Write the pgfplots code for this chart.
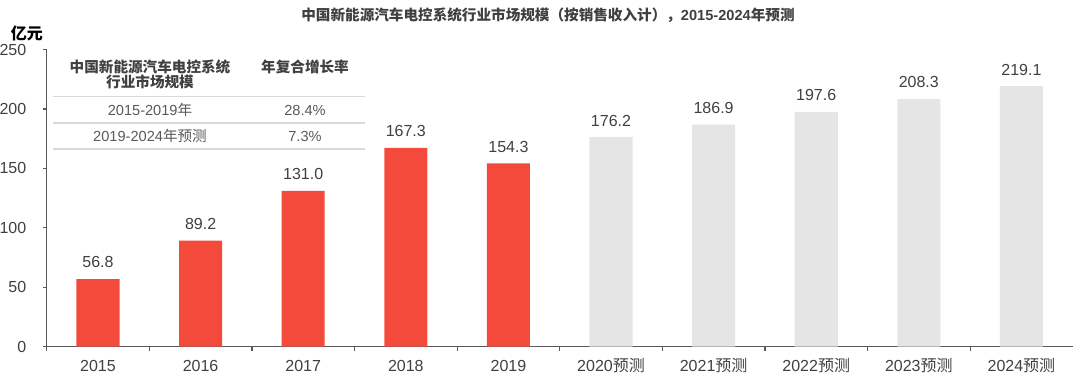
\documentclass[border=0pt]{standalone}
\usepackage{pgfplots}
\pgfplotsset{compat=1.18}
\usepackage{fontspec}
\setmainfont{Liberation Sans}
\newfontfamily\cjk{Noto Sans CJK SC}
\definecolor{barred}{HTML}{F44A3C}
\definecolor{bargray}{HTML}{E5E5E5}
\definecolor{txt}{HTML}{404040}
\definecolor{axl}{HTML}{595959}
\definecolor{tline}{HTML}{D9D9D9}
\definecolor{ttxt}{HTML}{595959}
\begin{document}
\begin{tikzpicture}
\path[use as bounding box] (-23.35pt,-18.65pt) rectangle (516.65pt,173.35pt);
\begin{axis}[
  at={(0pt,0pt)}, anchor=south west,
  scale only axis, width=513pt, height=148.6pt,
  xmin=-0.5, xmax=9.5, ymin=0, ymax=250,
  axis x line*=bottom, axis y line*=left,
  axis line style={draw=axl, line width=0.6pt},
  /pgf/number format/assume math mode=true,
  tick align=outside,
  major tick length=2pt, minor tick length=2pt,
  tick style={draw=axl, line width=0.6pt},
  xtick={0,...,9},
  xticklabels={2015,2016,2017,2018,2019,{2020\cjk 预测},{2021\cjk 预测},{2022\cjk 预测},{2023\cjk 预测},{2024\cjk 预测}},
  major x tick style={draw=none},
  minor xtick={-0.5,0.5,...,8.5},
  ytick={0,50,...,250},
  ticklabel style={font=\fontsize{8}{9.6}\selectfont, text=txt},
  xticklabel style={text height=5.8pt, text depth=1.5pt, yshift=-1.1pt},
  yticklabel style={xshift=-4.7pt},
  nodes near coords={\pgfmathprintnumber[fixed,fixed zerofill,precision=1]{\pgfplotspointmeta}},
  every node near coord/.append style={font=\fontsize{8}{9.6}\selectfont, text=txt, yshift=2pt},
  clip=false,
]
\addplot[ybar, bar shift=0pt, bar width=0.42, fill=barred, draw=none]
  coordinates {(0,56.8) (1,89.2) (2,131.0) (3,167.3) (4,154.3)};
\addplot[ybar, bar shift=0pt, bar width=0.42, fill=bargray, draw=none]
  coordinates {(5,176.2) (6,186.9) (7,197.6) (8,208.3) (9,219.1)};
\end{axis}
% unit label
\node[text=black, font=\fontsize{8}{9.6}\selectfont\cjk\bfseries] at (-9.85pt,156.85pt) {亿元};
% title
\node[text=txt, font=\fontsize{7.3}{8.8}\selectfont\bfseries] at (250.65pt,165.85pt) {{\cjk 中国新能源汽车电控系统行业市场规模（按销售收入计），}2015-2024{\cjk 年预测}};
% table
\draw[tline, line width=0.6pt] (3.15pt,125pt) -- (159.15pt,125pt);
\draw[tline, line width=0.6pt] (3.15pt,111.85pt) -- (159.15pt,111.85pt);
\draw[tline, line width=0.6pt] (3.15pt,98.85pt) -- (159.15pt,98.85pt);
\node[text=txt, align=center, font=\fontsize{7.3}{7.5}\selectfont\cjk\bfseries] at (51.65pt,136.1pt) {中国新能源汽车电控系统\\行业市场规模};
\node[text=txt, font=\fontsize{7.3}{8.8}\selectfont\cjk\bfseries] at (129.15pt,139.85pt) {年复合增长率};
\node[text=ttxt, font=\fontsize{7.3}{8.8}\selectfont] at (51.65pt,118.35pt) {2015-2019{\cjk 年}};
\node[text=ttxt, font=\fontsize{7.3}{8.8}\selectfont] at (129.15pt,118.35pt) {28.4\%};
\node[text=ttxt, font=\fontsize{7.3}{8.8}\selectfont] at (51.65pt,105.35pt) {2019-2024{\cjk 年预测}};
\node[text=ttxt, font=\fontsize{7.3}{8.8}\selectfont] at (129.15pt,105.35pt) {7.3\%};
\end{tikzpicture}
\end{document}
